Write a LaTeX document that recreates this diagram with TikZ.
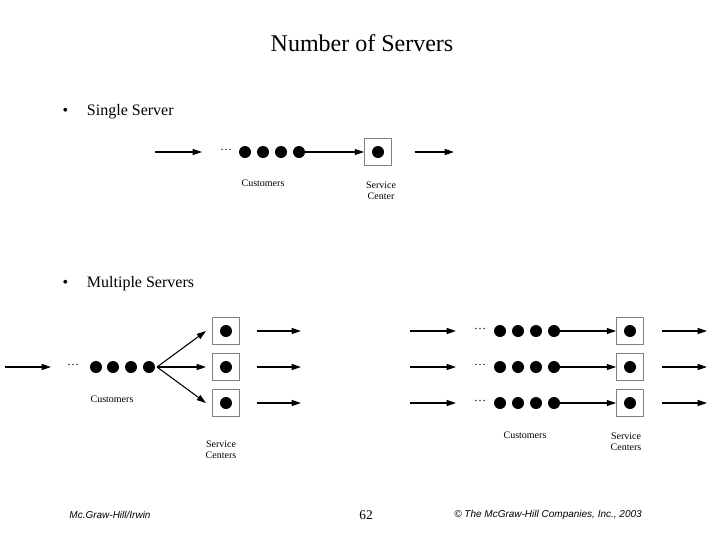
\documentclass[tikz,border=0pt]{standalone}
\usepackage{fontspec}
\setmainfont{Liberation Serif}
\newfontfamily\footfont{Liberation Sans}
\usetikzlibrary{arrows.meta}
\begin{document}
\begin{tikzpicture}[x=0.75pt,y=-0.75pt,
  arr/.style={-{Triangle[length=7pt,width=4.5pt]},line width=0.8pt},
  cust/.style={circle,fill=black,inner sep=0,minimum size=9pt},
  srv/.style={draw=gray,line width=0.8pt,minimum size=20pt,inner sep=0},
  lab/.style={font=\fontsize{7.5}{8.5}\selectfont,align=center,inner sep=0},
  dts/.style={font=\small,inner sep=0}]
\useasboundingbox (0,0) rectangle (720,540);
\node (title) at (362,43) {\fontsize{18}{20}\selectfont Number of Servers};
\node[anchor=west] (b1) at (58,112) {\fontsize{12}{14}\selectfont •\hspace{14pt}Single Server};
\node[anchor=west] (b2) at (58,284) {\fontsize{12}{14}\selectfont •\hspace{14pt}Multiple Servers};
% single
\coordinate (s0) at (155,152); \coordinate (s1) at (202,152);
\draw[arr] (s0) -- (s1);
\node[dts] (sd) at (226,150) {\dots};
\foreach \x [count=\i] in {245,263,281,299} \node[cust] (sc\i) at (\x,152) {};
\node[srv] (sb) at (378,152) {}; \node[cust] (sbd) at (378,152) {};
\draw[arr] (sc4) -- (sb);
\coordinate (so) at (454,152); \draw[arr] (sb.east)++(17pt,0) coordinate (soa) -- (so);
\node[lab] (sl1) at (263,183) {Customers};
\node[lab] (sl2) at (381,191) {Service\\Center};
% multi left
\coordinate (m0) at (5,367); \coordinate (m1) at (51,367);
\draw[arr] (m0) -- (m1);
\node[dts] (md) at (73,365) {\dots};
\foreach \x [count=\i] in {96,113,131,149} \node[cust] (mc\i) at (\x,367) {};
\foreach \y [count=\j] in {331,367,403}{
  \node[srv] (mb\j) at (226,\y) {}; \node[cust] at (226,\y) {};
  \coordinate (mt\j) at (206,\y);
  \draw[arr] (157,367) -- (mt\j);
  \coordinate (mo\j) at (301,\y); \draw[arr] (257,\y) -- (mo\j);
}
\node[lab] (ml1) at (112,399) {Customers};
\node[lab] (ml2) at (221,450) {Service\\Centers};
% multi right
\foreach \y [count=\j] in {331,367,403}{
  \coordinate (ri\j) at (410,\y); \coordinate (rj\j) at (456,\y);
  \draw[arr] (ri\j) -- (rj\j);
  \node[dts] at (480,\y-2) {\dots};
  \foreach \x [count=\i] in {500,518,536,554} \node[cust] (rc\j\i) at (\x,\y) {};
  \node[srv] (rb\j) at (630,\y) {}; \node[cust] at (630,\y) {};
  \draw[arr] (rc\j4) -- (rb\j);
  \coordinate (ro\j) at (707,\y); \draw[arr] (662,\y) -- (ro\j);
}
\node[lab] (rl1) at (525,435) {Customers};
\node[lab] (rl2) at (626,442) {Service\\Centers};
% footer
\node (f1) at (110,515) {\footfont\itshape\fontsize{7.5}{9}\selectfont Mc.Graw-Hill/Irwin};
\node (f2) at (366,515) {\fontsize{10}{12}\selectfont 62};
\node (f3) at (548,515) {\footfont\itshape\fontsize{7.5}{9}\selectfont © The McGraw-Hill Companies, Inc., 2003};
\end{tikzpicture}
\end{document}
